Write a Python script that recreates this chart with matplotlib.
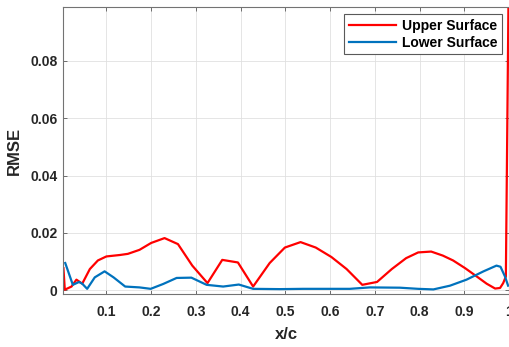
import numpy as np
import matplotlib
matplotlib.use('Agg')
import matplotlib.pyplot as plt

plt.rcParams['font.family'] = ['Liberation Sans', 'DejaVu Sans']
plt.rcParams['font.weight'] = 'bold'

# upper surface RMSE
x_upper = [0.004, 0.007, 0.022, 0.033, 0.046, 0.063, 0.081, 0.100, 0.130, 0.148,
           0.174, 0.200, 0.230, 0.260, 0.292, 0.326, 0.359, 0.394, 0.428, 0.465,
           0.499, 0.534, 0.568, 0.603, 0.637, 0.672, 0.705, 0.738, 0.770, 0.797,
           0.826, 0.852, 0.875, 0.902, 0.928, 0.950, 0.969, 0.980, 0.987, 0.993,
           1.000]
y_upper = [0.0077, 0.0002, 0.0013, 0.0037, 0.0023, 0.0074, 0.0104, 0.0118, 0.0123, 0.0127,
           0.0141, 0.0165, 0.0182, 0.0161, 0.0086, 0.0025, 0.0106, 0.0097, 0.0013, 0.0095,
           0.0149, 0.0168, 0.0149, 0.0116, 0.0074, 0.0019, 0.0029, 0.0074, 0.0112, 0.0132,
           0.0135, 0.0121, 0.0104, 0.0077, 0.0048, 0.0023, 0.0006, 0.0008, 0.0025, 0.0048,
           0.1200]

# lower surface RMSE
x_lower = [0.008, 0.025, 0.039, 0.046, 0.057, 0.074, 0.096, 0.116, 0.142, 0.174,
           0.199, 0.227, 0.257, 0.290, 0.324, 0.361, 0.396, 0.428, 0.488, 0.540,
           0.644, 0.689, 0.756, 0.797, 0.831, 0.868, 0.905, 0.943, 0.972, 0.981,
           0.991, 0.998]
y_lower = [0.0095, 0.0019, 0.0029, 0.0023, 0.0005, 0.0045, 0.0066, 0.0045, 0.0013, 0.0010,
           0.0005, 0.0022, 0.0043, 0.0044, 0.0019, 0.0013, 0.0020, 0.0005, 0.0004, 0.0005,
           0.0005, 0.0010, 0.0009, 0.0005, 0.0003, 0.0016, 0.0037, 0.0066, 0.0086, 0.0082,
           0.0048, 0.0016]

xticks = [0.1, 0.2, 0.3, 0.4, 0.5, 0.6, 0.7, 0.8, 0.9, 1.0]
xlabels = ['0.1', '0.2', '0.3', '0.4', '0.5', '0.6', '0.7', '0.8', '0.9', '1']
yticks = [0, 0.02, 0.04, 0.06, 0.08]
ylabels = ['0', '0.02', '0.04', '0.06', '0.08']

fig = plt.figure(figsize=(5.1, 3.47), dpi=100)
ax = fig.add_axes([63/510, 1 - 294/347, 446/510, 287/347])

ax.plot(x_upper, y_upper, color='#FF0000', lw=1.6, label='Upper Surface')
ax.plot(x_lower, y_lower, color='#0072BD', lw=1.6, label='Lower Surface')

ax.set_xlim(0.003, 1.0)
ax.set_ylim(-0.0013, 0.0988)
ax.set_xticks(xticks)
ax.set_xticklabels(xlabels)
ax.set_yticks(yticks)
ax.set_yticklabels(ylabels)
ax.tick_params(direction='in', length=3, width=0.6, colors='0.35', labelcolor='#262626',
               labelsize=10, top=True, right=True)
ax.tick_params(axis='x', pad=8)
ax.tick_params(axis='y', pad=4)
ax.grid(True, color='0.88', lw=0.6)
for s in ax.spines.values():
    s.set_color('0.45')
    s.set_linewidth(0.8)

ax.set_xlabel('x/c', fontsize=12, fontweight='bold', color='#262626', labelpad=6)
ax.set_ylabel('RMSE', fontsize=12, fontweight='bold', color='#262626', labelpad=6)

leg = ax.legend(loc='upper right', fontsize=10, fancybox=False, framealpha=1,
                edgecolor='0.35', handlelength=3.4, borderaxespad=0.5,
                labelspacing=0.2, handletextpad=0.4, borderpad=0.35)
leg.get_frame().set_linewidth(0.8)

fig.savefig('out.png', dpi=100)
